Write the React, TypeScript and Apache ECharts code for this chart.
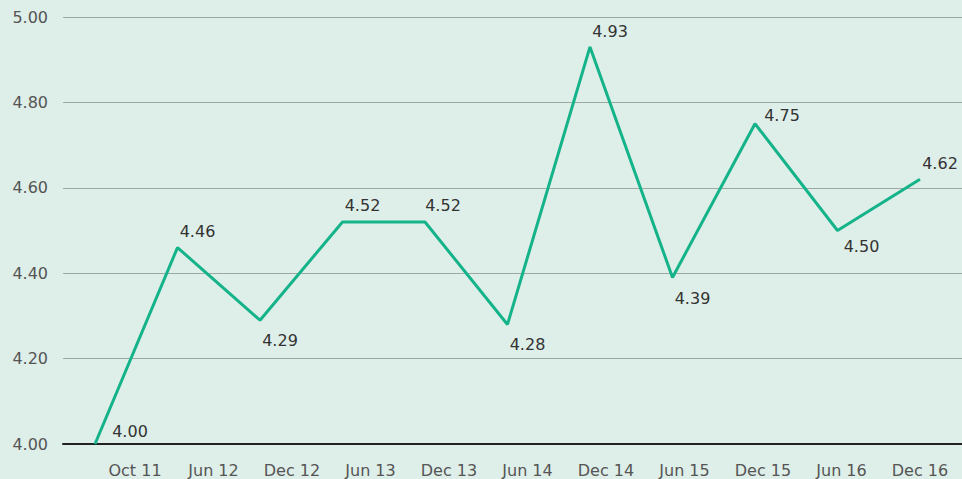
import React, { useEffect, useRef } from "react";
import * as echarts from "echarts";

const categories = ["Oct 11", "Jun 12", "Dec 12", "Jun 13", "Dec 13", "Jun 14", "Dec 14", "Jun 15", "Dec 15", "Jun 16", "Dec 16"];
const values = [4.0, 4.46, 4.29, 4.52, 4.52, 4.28, 4.93, 4.39, 4.75, 4.5, 4.62];
const labelSides = ["top", "top", "bottom", "top", "top", "bottom", "top", "bottom", "top", "bottom", "top"];
const labelOffsets: number[][] = [[35, 3], [20, 0], [20, 4], [20, 0], [18, 0], [20, 4], [20, 1], [20, 5], [27, 8], [24, 0], [20, 0]];
const yTicks = [4.0, 4.2, 4.4, 4.6, 4.8, 5.0];

export default function App() {
  const ref = useRef<HTMLDivElement>(null);
  useEffect(() => {
    const chart = echarts.init(ref.current!, null, { renderer: "svg" });
    const font = "'DejaVu Sans', sans-serif";
    chart.setOption({
      animation: false,
      backgroundColor: "#deeee8",
      grid: [
        { left: 63, right: 0, top: 17, bottom: 35 },
        { left: 95, right: 42, top: 17, bottom: 35 },
        { left: 135, right: 42, top: 17, bottom: 35 },
      ],
      xAxis: [
        {
          gridIndex: 0, type: "value", min: 0, max: 1,
          axisLine: { show: true, lineStyle: { color: "#222", width: 2 } },
          axisTick: { show: false }, axisLabel: { show: false }, splitLine: { show: false },
        },
        { gridIndex: 1, type: "category", data: categories, boundaryGap: false, show: false },
        {
          gridIndex: 2, type: "category", data: categories, boundaryGap: false,
          axisLine: { show: false }, axisTick: { show: false },
          axisLabel: { interval: 0, margin: 18, color: "#555", fontSize: 16, fontFamily: font },
        },
      ],
      yAxis: [
        {
          gridIndex: 0, type: "value", min: yTicks[0], max: yTicks[yTicks.length - 1], interval: 0.2,
          axisLine: { show: false }, axisTick: { show: false },
          axisLabel: { margin: 15, color: "#555", fontSize: 16, fontFamily: font, formatter: (v: number) => v.toFixed(2) },
          splitLine: { lineStyle: { color: "#9ea8a3", width: 1 } },
        },
        { gridIndex: 1, type: "value", min: 4, max: 5, show: false },
        { gridIndex: 2, type: "value", min: 4, max: 5, show: false },
      ],
      series: [
        {
          type: "line",
          xAxisIndex: 1,
          yAxisIndex: 1,
          data: values.map((v, i) => ({
            value: v,
            label: { position: labelSides[i], offset: labelOffsets[i] },
          })),
          symbol: "circle",
          symbolSize: 2,
          showSymbol: true,
          itemStyle: { color: "rgba(0,0,0,0)" },
          lineStyle: { color: "#14b389", width: 3 },
          label: {
            show: true,
            distance: 7,
            color: "#333",
            fontSize: 16,
            fontFamily: font,
            formatter: (p: any) => Number(p.value).toFixed(2),
          },
        },
      ],
    });
    return () => chart.dispose();
  }, []);
  return <div ref={ref} style={{ position: "absolute", left: 0, top: 0, width: 962, height: 479 }} />;
}
